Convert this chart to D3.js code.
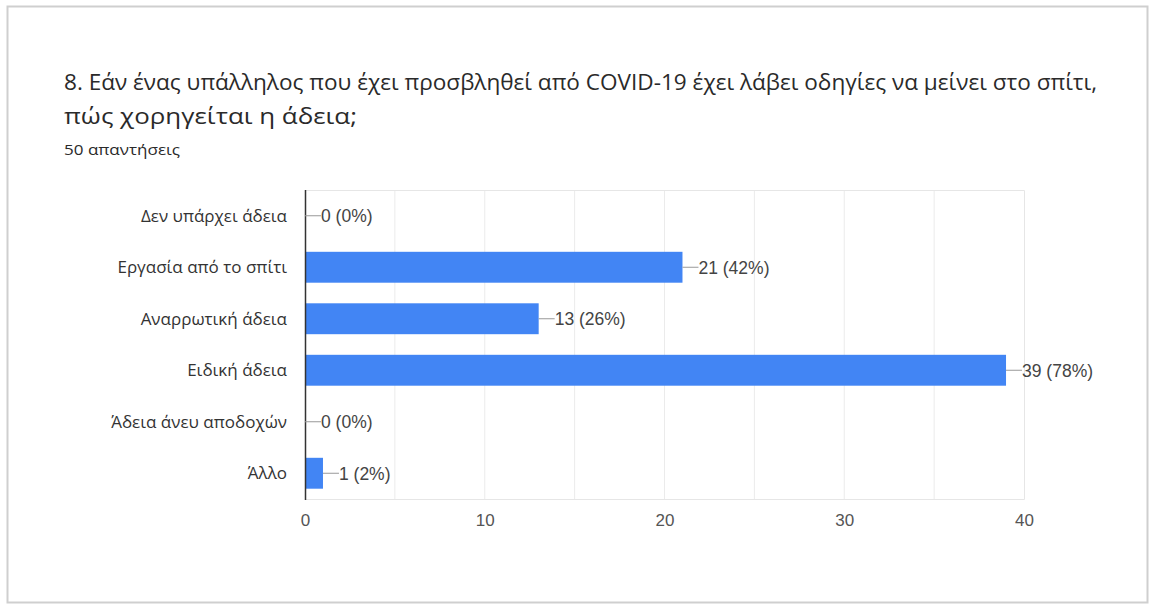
<!DOCTYPE html>
<html>
<head>
<meta charset="utf-8">
<script src="https://cdn.jsdelivr.net/npm/d3@7"></script>
<style>
  html, body { margin: 0; padding: 0; background: #fff; }
  svg { display: block; }
</style>
</head>
<body>
<svg id="chart" width="1149" height="605"></svg>
<script>
// Survey question 8: how leave is granted to an employee told to stay home with COVID-19
const titleLines = [
  "8. Εάν ένας υπάλληλος που έχει προσβληθεί από COVID-19 έχει λάβει οδηγίες να μείνει στο σπίτι,",
  "πώς χορηγείται η άδεια;"
];
const subtitle = "50 απαντήσεις";
const categories = [
  "Δεν υπάρχει άδεια",
  "Εργασία από το σπίτι",
  "Αναρρωτική άδεια",
  "Ειδική άδεια",
  "Άδεια άνευ αποδοχών",
  "Άλλο"
];
const counts = [0, 21, 13, 39, 0, 1];
const percents = [0, 42, 26, 78, 0, 2];
const xTicks = [0, 10, 20, 30, 40];
const gridSteps = [5, 10, 15, 20, 25, 30, 35];

const svg = d3.select("#chart");
const W = 1149, H = 605;

// Card frame
svg.append("rect")
  .attr("x", 7.5).attr("y", 6.5)
  .attr("width", W - 9).attr("height", H - 9)
  .attr("fill", "#fff")
  .attr("stroke", "#cfcfcf")
  .attr("stroke-width", 2);

// Title and response count
const titleFont = "'Open Sans', 'Noto Sans', sans-serif";
svg.append("text")
  .attr("x", 64).attr("y", 90)
  .attr("font-family", titleFont)
  .attr("font-size", 21)
  .attr("fill", "#2a2a2a")
  .attr("textLength", 1033)
  .attr("lengthAdjust", "spacingAndGlyphs")
  .text(titleLines[0]);
svg.append("text")
  .attr("x", 64).attr("y", 124)
  .attr("font-family", titleFont)
  .attr("font-size", 21)
  .attr("fill", "#2a2a2a")
  .attr("textLength", 293)
  .attr("lengthAdjust", "spacingAndGlyphs")
  .text(titleLines[1]);
svg.append("text")
  .attr("x", 64).attr("y", 155)
  .attr("font-family", titleFont)
  .attr("font-size", 15)
  .attr("fill", "#2a2a2a")
  .attr("textLength", 116)
  .attr("lengthAdjust", "spacingAndGlyphs")
  .text(subtitle);

// Plot area
const plot = { left: 305, right: 1024, top: 190, bottom: 499 };
const x = d3.scaleLinear().domain([0, 40]).range([plot.left, plot.right]);
const y = d3.scaleBand().domain(categories).range([plot.top, plot.bottom]).paddingInner(0.4).paddingOuter(0.2);

const g = svg.append("g");

// Vertical gridlines
g.selectAll("line.grid")
  .data(gridSteps)
  .join("line")
  .attr("class", "grid")
  .attr("x1", d => x(d)).attr("x2", d => x(d))
  .attr("y1", plot.top).attr("y2", plot.bottom)
  .attr("stroke", "#ebebeb")
  .attr("stroke-width", 1);

// Plot frame (top, right, bottom)
g.append("path")
  .attr("d", `M${plot.left},${plot.top + 0.5}H${plot.right + 0.5}V${plot.bottom + 0.5}H${plot.left}`)
  .attr("fill", "none")
  .attr("stroke", "#e6e6e6");

// Bars
g.selectAll("rect.bar")
  .data(categories)
  .join("rect")
  .attr("class", "bar")
  .attr("x", x(0))
  .attr("y", d => y(d))
  .attr("width", (d, i) => x(counts[i]) - x(0))
  .attr("height", y.bandwidth())
  .attr("fill", "#4285f4");

// Zero baseline
g.append("line")
  .attr("x1", x(0) + 0.5).attr("x2", x(0) + 0.5)
  .attr("y1", plot.top).attr("y2", plot.bottom + 1)
  .attr("stroke", "#333")
  .attr("stroke-width", 1.5);

// Leader lines and value labels
const numFont = "'Liberation Sans', Arial, sans-serif";
categories.forEach((c, i) => {
  const cy = y(c) + y.bandwidth() / 2;
  const x0 = x(counts[i]);
  g.append("line")
    .attr("x1", x0).attr("x2", x0 + 16)
    .attr("y1", cy).attr("y2", cy)
    .attr("stroke", "#999")
    .attr("stroke-width", 1);
  g.append("text")
    .attr("x", x0 + 16).attr("y", cy)
    .attr("dy", "0.36em")
    .attr("font-family", numFont)
    .attr("font-size", 17.5)
    .attr("fill", "#444")
    .text(`${counts[i]} (${percents[i]}%)`);
});

// Category labels
g.selectAll("text.cat")
  .data(categories)
  .join("text")
  .attr("class", "cat")
  .attr("x", 287)
  .attr("y", d => y(d) + y.bandwidth() / 2)
  .attr("dy", "0.36em")
  .attr("text-anchor", "end")
  .attr("font-family", titleFont)
  .attr("font-size", 17)
  .attr("fill", "#333")
  .text(d => d);

// X-axis tick labels
const xAxis = d3.axisBottom(x).tickValues(xTicks).tickSize(0).tickPadding(0);
const ax = svg.append("g")
  .attr("transform", `translate(0,${plot.bottom})`)
  .call(xAxis);
ax.select(".domain").remove();
ax.selectAll("text")
  .attr("y", 27)
  .attr("dy", 0)
  .attr("font-family", numFont)
  .attr("font-size", 17)
  .attr("fill", "#555");
</script>
</body>
</html>
